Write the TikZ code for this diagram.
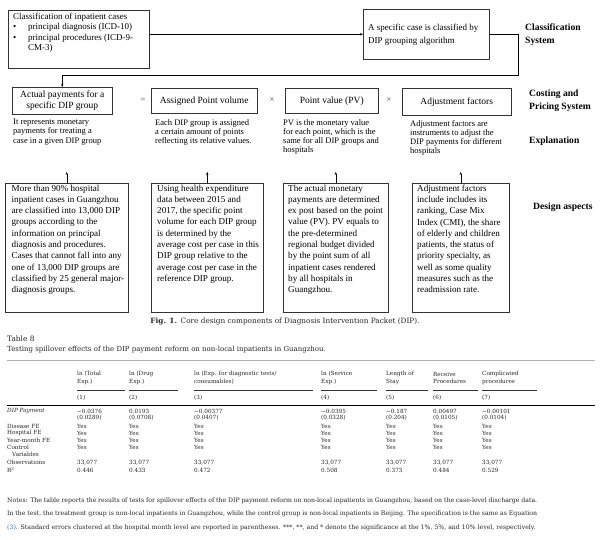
\documentclass[tikz,border=0pt]{standalone}
\usepackage{fontspec}
\setmainfont{Liberation Serif}
\newfontfamily\tabfont{DejaVu Serif}
\usetikzlibrary{arrows.meta,shadows}
\definecolor{linkblue}{RGB}{60,100,170}
\begin{document}
\begin{tikzpicture}[x=1pt,y=-1pt,
  box/.style={draw=black!80, line width=0.5pt, fill=white, inner sep=0pt, anchor=north west},
  sbox/.style={box, drop shadow={shadow xshift=0.9pt, shadow yshift=-0.9pt, opacity=0.85, fill=black!75}},
  arr/.style={draw=black, line width=0.5pt, -{Stealth[length=3pt,width=2.4pt]}},
  lbl/.style={font=\fontsize{9.6}{13}\selectfont\bfseries, align=left, anchor=west, inner sep=0pt},
  txt/.style={align=left, anchor=north west, inner sep=0pt},
  ctxt/.style={font=\fontsize{9.5}{11.5}\selectfont, align=center, inner sep=0pt},
  etxt/.style={txt, font=\fontsize{8.5}{9.2}\selectfont},
  dtxt/.style={txt, font=\fontsize{9.1}{11.3}\selectfont},
  op/.style={font=\fontsize{9}{10}\selectfont, inner sep=0pt, text=black!70},
  tc/.style={font=\tabfont\fontsize{5.7}{7.8}\selectfont, anchor=west, inner sep=0pt, align=left, text=black!85},
  rl/.style={draw=black!80, line width=0.45pt}
]
\useasboundingbox[fill=white] (0,0) rectangle (600,540);

% ---------- Classification system ----------
\node[sbox, minimum width=141pt, minimum height=58pt] (cls) at (8,10) {};
\node[txt, font=\fontsize{9}{10.6}\selectfont] (clst) at (13,12.5)
  {Classification of inpatient cases\\
   \makebox[15pt][l]{•}principal diagnosis (ICD-10)\\
   \makebox[15pt][l]{•}principal procedures (ICD-9-\\
   \hspace*{15pt}CM-3)};
\node[sbox, minimum width=126pt, minimum height=50pt] (alg) at (363,9) {};
\node[txt, anchor=west, font=\fontsize{9}{12.5}\selectfont] (algt) at (368,35)
  {A specific case is classified by\\DIP grouping algorithm};
\node[lbl] (L1) at (525,35) {Classification\\System};

% ---------- Costing and pricing ----------
\node[box, minimum width=100pt, minimum height=27pt] (pay) at (12,87) {};
\node[ctxt] (payt) at (pay.center) {Actual payments for a\\specific DIP group};
\node[op] (eq) at (143,100) {=};
\node[box, minimum width=106pt, minimum height=25pt] (apv) at (151,88) {};
\node[ctxt] (apvt) at (apv.center) {Assigned Point volume};
\node[op] (x1) at (272,100) {×};
\node[box, minimum width=93pt, minimum height=25pt] (pv) at (285,88) {};
\node[ctxt] (pvt) at (pv.center) {Point value (PV)};
\node[op] (x2) at (389,100) {×};
\node[box, minimum width=109pt, minimum height=27pt] (adj) at (402,88) {};
\node[ctxt] (adjt) at (adj.center) {Adjustment factors};
\node[lbl] (L2) at (529,101) {Costing and\\Pricing System};

\coordinate (c1) at (518,75);
\draw[arr] (cls.east |- alg.west) -- (alg.west);
\draw[arr] (alg.east) -| (c1) -| (pay.north);

% ---------- Explanation ----------
\node[etxt] (e1) at (13,119) {It represents monetary\\payments for treating a\\case in a given DIP group};
\node[etxt] (e2) at (155,119) {Each DIP group is assigned\\a certain amount of points\\reflecting its relative values.};
\node[etxt] (e3) at (283,119) {PV is the monetary value\\for each point, which is the\\same for all DIP groups and\\hospitals};
\node[etxt] (e4) at (410,120) {Adjustment factors are\\instruments to adjust the\\DIP payments for different\\hospitals};
\node[lbl] (L3) at (529,141) {Explanation};

% ---------- Design aspects ----------
\node[sbox, minimum width=123pt, minimum height=129pt] (d1) at (5,183) {};
\node[sbox, minimum width=112pt, minimum height=129pt] (d2) at (151,183) {};
\node[sbox, minimum width=105pt, minimum height=129pt] (d3) at (283,183) {};
\node[sbox, minimum width=97pt, minimum height=129pt] (d4) at (412,183) {};
\node[dtxt] (d1t) at (11.5,184.5) {More than 90\% hospital\\inpatient cases in Guangzhou\\are classified into 13,000 DIP\\groups according to the\\information on principal\\diagnosis and procedures.\\Cases that cannot fall into any\\one of 13,000 DIP groups are\\classified by 25 general major-\\diagnosis groups.};
\node[dtxt] (d2t) at (157,184.5) {Using health expenditure\\data between 2015 and\\2017, the specific point\\volume for each DIP group\\is determined by the\\average cost per case in this\\DIP group relative to the\\average cost per case in the\\reference DIP group.};
\node[dtxt] (d3t) at (288,184.5) {The actual monetary\\payments are determined\\ex post based on the point\\value (PV). PV equals to\\the pre-determined\\regional budget divided\\by the point sum of all\\inpatient cases rendered\\by all hospitals in\\Guangzhou.};
\node[dtxt] (d4t) at (417,184.5) {Adjustment factors\\include includes its\\ranking, Case Mix\\Index (CMI), the share\\of elderly and children\\patients, the status of\\priority specialty, as\\well as some quality\\measures such as the\\readmission rate.};
\node[lbl] (L4) at (533,207) {Design aspects};
\coordinate (t1) at (d1.north |- 0,172);
\coordinate (t2) at (d2.north |- 0,172);
\coordinate (t3) at (d3.north |- 0,172);
\coordinate (t4) at (d4.north |- 0,172);
\draw[arr] (d1.north) -- (t1);
\draw[arr] (d2.north) -- (t2);
\draw[arr] (d3.north) -- (t3);
\draw[arr] (d4.north) -- (t4);

% ---------- Figure caption ----------
\node[font=\tabfont\fontsize{7.3}{8.5}\selectfont, inner sep=0pt, text=black!85] (fcap) at (285,322)
  {\textbf{Fig. 1.}\enspace Core design components of Diagnosis Intervention Packet (DIP).};

% ---------- Table ----------
\node[tc, font=\tabfont\fontsize{7.4}{8}\selectfont] (tnum) at (7,339) {Table 8};
\node[tc, font=\tabfont\fontsize{7.0}{8}\selectfont] (ttl) at (7,350)
  {Testing spillover effects of the DIP payment reform on non-local inpatients in Guangzhou.};
\draw[draw=black!30, line width=0.4pt] (7,360) -- (595,360);

\node[tc] (h1) at (77,378) {ln (Total\\Exp.)};
\node[tc] (h2) at (129,378) {ln (Drug\\Exp.)};
\node[tc] (h3) at (194,378) {ln (Exp. for diagnostic tests/\\consumables)};
\node[tc] (h4) at (321,378) {ln (Service\\Exp.)};
\node[tc] (h5) at (386,378) {Length of\\Stay};
\node[tc] (h6) at (433,378) {Receive\\Procedures};
\node[tc] (h7) at (482,378) {Complicated\\procedures};
\foreach \a/\b in {77/125,129/178,194/313,321/377,386/428,433/478,482/537}
  \draw[rl] (\a,390) -- (\b,390);
\foreach \x [count=\i] in {77,129,194,321,386,433,482}
  \node[tc] (n\i) at (\x,398) {(\i)};
\draw[draw=black, line width=1pt] (7,405.5) -- (595,405.5);

\node[tc] (r1) at (7,411.5) {\itshape DIP Payment};
\node[tc] (r2) at (7,426) {Disease FE};
\node[tc] (r3) at (7,433) {Hospital FE};
\node[tc] (r4) at (7,440) {Year-month FE};
\node[tc] (r5) at (7,447.5) {Control};
\node[tc] (r5b) at (12,454) {Variables};
\node[tc] (r6) at (7,462.5) {Observations};
\node[tc] (r7) at (7,470) {R\textsuperscript{2}};

\foreach \x/\v/\s/\r [count=\i] in {77/−0.0376/(0.0289)/0.446, 129/0.0193/(0.0708)/0.433,
    194/−0.00377/(0.0407)/0.472, 321/−0.0395/(0.0328)/0.508, 386/−0.187/(0.204)/0.373,
    433/0.00497/(0.0105)/0.484, 482/−0.00101/(0.0104)/0.529} {
  \node[tc] (pv\i) at (\x,411.5) {\v};
  \node[tc] (se\i) at (\x,417.5) {\s};
  \node[tc] (df\i) at (\x,426) {Yes};
  \node[tc] (hf\i) at (\x,433) {Yes};
  \node[tc] (ym\i) at (\x,440) {Yes};
  \node[tc] (cv\i) at (\x,447.5) {Yes};
  \node[tc] (ob\i) at (\x,462.5) {33,077};
  \node[tc] (rr\i) at (\x,470) {\r};
}

\node[txt, font=\tabfont\fontsize{6.2}{13.5}\selectfont, text width=530pt, align=justify, text=black!85] (notes) at (7,497.5)
  {Notes: The table reports the results of tests for spillover effects of the DIP payment reform on non-local inpatients in Guangzhou, based on the case-level discharge data.\linebreak
   In the test, the treatment group is non-local inpatients in Guangzhou, while the control group is non-local inpatients in Beijing. The specification is the same as Equation\linebreak
   \textcolor{linkblue}{(3)}. Standard errors clustered at the hospital month level are reported in parentheses. ***, **, and * denote the significance at the 1\%, 5\%, and 10\% level, respectively.};
\end{tikzpicture}
\end{document}
